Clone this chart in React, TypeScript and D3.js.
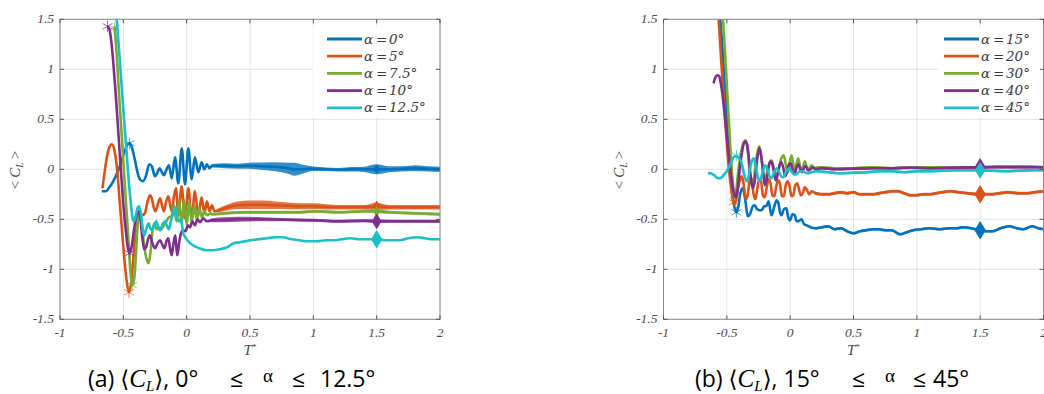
import React from 'react';
import * as d3 from 'd3';

const colors = ['#0072BD', '#D95319', '#77AC30', '#7E2F8E', '#1BBFC6'];
const leftValues = ['0°', '5°', '7.5°', '10°', '12.5°'];
const rightValues = ['15°', '20°', '30°', '40°', '45°'];
const xTicks = [-1, -0.5, 0, 0.5, 1, 1.5, 2];
const yTicks = [-1.5, -1, -0.5, 0, 0.5, 1, 1.5];
const xTickLabels = ['-1', '-0.5', '0', '0.5', '1', '1.5', '2'];
const yTickLabels = ['-1.5', '-1', '-0.5', '0', '0.5', '1', '1.5'];
const diamondT = 1.5;

// [T*, <CL>, noise half-width]
const a0: number[][] = [
  [-0.67, -0.22], [-0.64, -0.22], [-0.61, -0.18], [-0.58, -0.12], [-0.55, -0.04], [-0.52, 0.06], [-0.49, 0.18], [-0.465, 0.25], [-0.45, 0.26], [-0.43, 0.21], [-0.41, 0.1], [-0.39, -0.02], [-0.37, -0.1], [-0.345, -0.12], [-0.32, -0.06], [-0.295, 0.05], [-0.275, 0.03], [-0.25, -0.07], [-0.23, -0.03], [-0.215, 0.01], [-0.195, -0.03], [-0.18, -0.06], [-0.165, -0.02], [-0.14, 0.04], [-0.118, -0.09], [-0.092, 0.12], [-0.066, -0.14], [-0.039, 0.21], [-0.013, -0.15], [0.013, 0.21], [0.039, -0.1], [0.065, 0.12], [0.092, -0.03], [0.118, 0.07], [0.14, 0.0], [0.16, 0.05], [0.18, 0.01],
  [0.2, 0.035, 0.018], [0.3, 0.035, 0.025], [0.4, 0.03, 0.025], [0.5, 0.035, 0.03], [0.6, 0.03, 0.038], [0.7, 0.025, 0.045], [0.8, 0.01, 0.055], [0.85, 0.0, 0.065], [0.9, 0.0, 0.05], [1.0, 0.005, 0.022], [1.1, 0.0, 0.018], [1.2, -0.005, 0.018], [1.3, 0.0, 0.022], [1.4, 0.0, 0.026], [1.5, 0.0, 0.05], [1.6, 0.0, 0.03], [1.7, 0.005, 0.026], [1.8, 0.01, 0.03], [1.9, 0.005, 0.026], [2.0, 0.0, 0.026],
];
const a5: number[][] = [
  [-0.665, -0.19], [-0.65, -0.05], [-0.63, 0.12], [-0.61, 0.22], [-0.59, 0.25], [-0.57, 0.19], [-0.55, 0.01], [-0.53, -0.3], [-0.51, -0.62], [-0.49, -0.92], [-0.47, -1.15], [-0.455, -1.23], [-0.44, -1.15], [-0.425, -0.95], [-0.41, -0.72], [-0.39, -0.55], [-0.37, -0.47], [-0.35, -0.46], [-0.33, -0.44], [-0.31, -0.33], [-0.29, -0.26], [-0.275, -0.29], [-0.26, -0.38], [-0.245, -0.42], [-0.228, -0.35], [-0.21, -0.29], [-0.195, -0.36], [-0.18, -0.42], [-0.163, -0.33], [-0.145, -0.27], [-0.13, -0.36], [-0.118, -0.42], [-0.1, -0.27], [-0.084, -0.19], [-0.066, -0.46], [-0.04, -0.17], [-0.013, -0.49], [0.013, -0.19], [0.04, -0.49], [0.065, -0.22], [0.092, -0.46], [0.118, -0.28], [0.14, -0.44], [0.16, -0.32], [0.18, -0.42], [0.2, -0.36], [0.22, -0.42],
  [0.25, -0.41, 0.018], [0.3, -0.39, 0.026], [0.4, -0.36, 0.038], [0.5, -0.355, 0.042], [0.6, -0.355, 0.042], [0.7, -0.36, 0.038], [0.8, -0.365, 0.034], [0.9, -0.37, 0.03], [1.0, -0.37, 0.03], [1.1, -0.375, 0.026], [1.2, -0.38, 0.022], [1.3, -0.38, 0.022], [1.4, -0.38, 0.022], [1.5, -0.37, 0.035], [1.6, -0.38, 0.022], [1.7, -0.38, 0.022], [1.8, -0.38, 0.022], [1.9, -0.38, 0.022], [2.0, -0.38, 0.022],
];
const a75: number[][] = [
  [-0.57, 1.43], [-0.555, 1.2], [-0.54, 0.88], [-0.52, 0.48], [-0.5, 0.08], [-0.48, -0.32], [-0.46, -0.7], [-0.445, -1.0], [-0.43, -1.16], [-0.415, -1.1], [-0.4, -0.85], [-0.39, -0.6], [-0.376, -0.42], [-0.36, -0.5], [-0.34, -0.72], [-0.32, -0.88], [-0.3, -0.94], [-0.285, -0.82], [-0.27, -0.62], [-0.255, -0.54], [-0.24, -0.6], [-0.22, -0.58], [-0.2, -0.6], [-0.18, -0.56], [-0.16, -0.52], [-0.14, -0.48], [-0.12, -0.47], [-0.1, -0.36], [-0.08, -0.52], [-0.06, -0.31], [-0.04, -0.55], [-0.02, -0.31], [0.0, -0.55], [0.02, -0.33], [0.04, -0.53], [0.06, -0.36], [0.08, -0.5], [0.1, -0.39], [0.12, -0.48], [0.14, -0.42], [0.16, -0.46], [0.19, -0.44],
  [0.2, -0.45, 0.012], [0.3, -0.44, 0.015], [0.5, -0.43, 0.015], [0.7, -0.43, 0.015], [0.9, -0.43, 0.015], [1.0, -0.42, 0.015], [1.2, -0.43, 0.015], [1.4, -0.42, 0.015], [1.5, -0.42, 0.02], [1.6, -0.43, 0.015], [1.8, -0.44, 0.015], [2.0, -0.45, 0.015],
];
const a10: number[][] = [
  [-0.625, 1.43], [-0.61, 1.4], [-0.595, 1.28], [-0.58, 1.08], [-0.56, 0.75], [-0.54, 0.38], [-0.52, 0.0], [-0.5, -0.35], [-0.48, -0.62], [-0.465, -0.78], [-0.45, -0.84], [-0.435, -0.78], [-0.415, -0.6], [-0.395, -0.45], [-0.38, -0.42], [-0.365, -0.5], [-0.35, -0.68], [-0.335, -0.8], [-0.32, -0.78], [-0.305, -0.7], [-0.29, -0.66], [-0.27, -0.74], [-0.25, -0.79], [-0.23, -0.74], [-0.21, -0.71], [-0.19, -0.76], [-0.175, -0.79], [-0.16, -0.72], [-0.145, -0.69], [-0.13, -0.8], [-0.118, -0.86], [-0.104, -0.74], [-0.09, -0.66], [-0.08, -0.8], [-0.074, -0.86], [-0.06, -0.74], [-0.045, -0.64], [-0.027, -0.61], [-0.01, -0.62], [0.01, -0.56], [0.026, -0.58], [0.045, -0.52], [0.065, -0.56], [0.085, -0.5], [0.105, -0.53], [0.13, -0.49], [0.16, -0.52],
  [0.2, -0.51, 0.02], [0.3, -0.505, 0.025], [0.4, -0.5, 0.025], [0.6, -0.5, 0.02], [0.8, -0.505, 0.015], [1.0, -0.51, 0.015], [1.2, -0.52, 0.015], [1.4, -0.515, 0.015], [1.5, -0.52, 0.02], [1.6, -0.52, 0.015], [1.8, -0.52, 0.015], [2.0, -0.52, 0.015],
];
const a125: number[][] = [
  [-0.56, 1.62], [-0.54, 1.3], [-0.52, 0.95], [-0.5, 0.6], [-0.485, 0.35], [-0.47, 0.1], [-0.455, -0.15], [-0.44, -0.35], [-0.425, -0.5], [-0.415, -0.52], [-0.4, -0.45], [-0.385, -0.38], [-0.375, -0.37], [-0.36, -0.45], [-0.345, -0.62], [-0.335, -0.66], [-0.32, -0.6], [-0.3, -0.54], [-0.29, -0.58], [-0.275, -0.61], [-0.26, -0.57], [-0.24, -0.52], [-0.225, -0.58], [-0.21, -0.61], [-0.19, -0.55], [-0.17, -0.52], [-0.155, -0.57], [-0.14, -0.6], [-0.125, -0.52], [-0.105, -0.44], [-0.09, -0.38], [-0.075, -0.48], [-0.06, -0.52], [-0.045, -0.5], [-0.027, -0.64], [-0.01, -0.68], [0.013, -0.72], [0.05, -0.76], [0.1, -0.79], [0.16, -0.81], [0.21, -0.81], [0.26, -0.8], [0.32, -0.78], [0.37, -0.74], [0.42, -0.73], [0.5, -0.71], [0.56, -0.7], [0.63, -0.69], [0.7, -0.68], [0.76, -0.68], [0.83, -0.7], [0.89, -0.71], [0.96, -0.72], [1.03, -0.72], [1.1, -0.71], [1.16, -0.71], [1.22, -0.7], [1.29, -0.69], [1.36, -0.7], [1.43, -0.7], [1.5, -0.7], [1.57, -0.71], [1.63, -0.71], [1.68, -0.71], [1.75, -0.69], [1.82, -0.68], [1.88, -0.69], [1.94, -0.7], [2.0, -0.7],
];

const b15: number[][] = [
  [-0.56, 1.62], [-0.54, 1.3], [-0.52, 0.9], [-0.5, 0.5], [-0.48, 0.1], [-0.46, -0.22], [-0.44, -0.38], [-0.425, -0.43], [-0.41, -0.38], [-0.395, -0.25], [-0.375, -0.19], [-0.355, -0.3], [-0.335, -0.47], [-0.315, -0.44], [-0.295, -0.37], [-0.28, -0.36], [-0.26, -0.4], [-0.24, -0.41], [-0.225, -0.41], [-0.205, -0.37], [-0.19, -0.37], [-0.17, -0.32], [-0.158, -0.4], [-0.147, -0.46], [-0.125, -0.37], [-0.107, -0.31], [-0.095, -0.33], [-0.08, -0.43], [-0.068, -0.46], [-0.05, -0.4], [-0.03, -0.39], [-0.015, -0.48], [0.0, -0.51], [0.018, -0.45], [0.037, -0.46], [0.05, -0.52], [0.063, -0.52], [0.09, -0.5], [0.11, -0.55], [0.13, -0.56], [0.16, -0.58],
  [0.2, -0.59, 0.012], [0.25, -0.58, 0.012], [0.3, -0.57, 0.012], [0.35, -0.6, 0.012], [0.4, -0.59, 0.012], [0.45, -0.62, 0.012], [0.5, -0.64, 0.012], [0.55, -0.62, 0.012], [0.6, -0.61, 0.012], [0.65, -0.6, 0.012], [0.7, -0.6, 0.012], [0.75, -0.61, 0.012], [0.8, -0.61, 0.012], [0.87, -0.65, 0.012], [0.92, -0.63, 0.012], [0.97, -0.61, 0.012], [1.03, -0.6, 0.012], [1.1, -0.59, 0.012], [1.18, -0.6, 0.012], [1.26, -0.59, 0.012], [1.32, -0.59, 0.012], [1.36, -0.58, 0.012], [1.43, -0.59, 0.012], [1.5, -0.61, 0.012], [1.55, -0.62, 0.012], [1.6, -0.62, 0.012], [1.66, -0.59, 0.012], [1.73, -0.57, 0.012], [1.79, -0.59, 0.012], [1.84, -0.6, 0.012], [1.91, -0.57, 0.012], [1.96, -0.59, 0.012], [2.0, -0.6, 0.012],
];
const b20: number[][] = [
  [-0.58, 1.7], [-0.565, 1.5], [-0.545, 1.1], [-0.525, 0.72], [-0.505, 0.35], [-0.485, 0.02], [-0.465, -0.2], [-0.45, -0.32], [-0.44, -0.35], [-0.425, -0.3], [-0.41, -0.18], [-0.395, -0.1], [-0.38, -0.07], [-0.365, -0.17], [-0.35, -0.3], [-0.335, -0.26], [-0.32, -0.1], [-0.305, -0.09], [-0.29, -0.24], [-0.275, -0.3], [-0.26, -0.2], [-0.245, -0.1], [-0.23, -0.12], [-0.215, -0.26], [-0.2, -0.28], [-0.185, -0.18], [-0.17, -0.1], [-0.155, -0.14], [-0.14, -0.26], [-0.125, -0.27], [-0.11, -0.17], [-0.095, -0.11], [-0.08, -0.15], [-0.065, -0.27], [-0.05, -0.27], [-0.035, -0.16], [-0.02, -0.12], [-0.005, -0.17], [0.01, -0.27], [0.025, -0.26], [0.04, -0.16], [0.055, -0.14], [0.07, -0.2], [0.085, -0.26], [0.1, -0.24], [0.115, -0.18], [0.13, -0.2], [0.15, -0.25], [0.17, -0.22],
  [0.2, -0.24, 0.015], [0.25, -0.25, 0.015], [0.3, -0.25, 0.015], [0.35, -0.24, 0.015], [0.4, -0.23, 0.015], [0.45, -0.24, 0.015], [0.5, -0.23, 0.015], [0.55, -0.25, 0.015], [0.6, -0.25, 0.015], [0.65, -0.25, 0.015], [0.7, -0.24, 0.015], [0.75, -0.23, 0.015], [0.8, -0.22, 0.015], [0.85, -0.22, 0.015], [0.9, -0.24, 0.015], [0.95, -0.26, 0.015], [1.0, -0.26, 0.015], [1.05, -0.25, 0.015], [1.1, -0.25, 0.015], [1.15, -0.24, 0.015], [1.2, -0.23, 0.015], [1.27, -0.22, 0.015], [1.33, -0.23, 0.015], [1.4, -0.24, 0.015], [1.5, -0.25, 0.015], [1.58, -0.25, 0.015], [1.65, -0.24, 0.015], [1.72, -0.23, 0.015], [1.8, -0.24, 0.015], [1.86, -0.24, 0.015], [1.93, -0.23, 0.015], [2.0, -0.22, 0.015],
];
const b30: number[][] = [
  [-0.545, 1.7], [-0.53, 1.5], [-0.515, 1.18], [-0.5, 0.85], [-0.485, 0.5], [-0.47, 0.17], [-0.455, -0.1], [-0.44, -0.26], [-0.425, -0.2], [-0.41, -0.02], [-0.39, 0.15], [-0.37, 0.26], [-0.35, 0.29], [-0.335, 0.18], [-0.318, -0.05], [-0.302, -0.17], [-0.285, -0.08], [-0.265, 0.12], [-0.245, 0.23], [-0.228, 0.12], [-0.213, -0.03], [-0.2, -0.11], [-0.185, -0.05], [-0.165, 0.06], [-0.147, 0.09], [-0.127, 0.0], [-0.107, -0.06], [-0.09, 0.0], [-0.07, 0.11], [-0.05, 0.14], [-0.035, 0.05], [-0.02, -0.03], [-0.005, 0.06], [0.011, 0.14], [0.024, 0.06], [0.037, -0.03], [0.05, 0.05], [0.063, 0.11], [0.076, 0.04], [0.09, -0.02], [0.103, 0.03], [0.116, 0.08], [0.128, 0.03], [0.14, -0.01], [0.155, 0.02], [0.17, 0.04], [0.19, 0.01],
  [0.22, 0.02, 0.012], [0.35, 0.01, 0.012], [0.5, 0.01, 0.012], [0.65, 0.02, 0.012], [0.8, 0.01, 0.012], [0.95, 0.02, 0.012], [1.1, 0.02, 0.012], [1.3, 0.02, 0.012], [1.5, 0.02, 0.012], [1.65, 0.03, 0.012], [1.8, 0.03, 0.012], [2.0, 0.02, 0.012],
];
const b40: number[][] = [
  [-0.605, 0.86], [-0.59, 0.92], [-0.575, 0.94], [-0.56, 0.93], [-0.545, 0.84], [-0.53, 0.7], [-0.515, 0.52], [-0.5, 0.34], [-0.485, 0.15], [-0.47, -0.03], [-0.455, -0.17], [-0.44, -0.26], [-0.43, -0.28], [-0.415, -0.2], [-0.4, -0.02], [-0.385, 0.13], [-0.37, 0.24], [-0.355, 0.28], [-0.34, 0.25], [-0.325, 0.1], [-0.31, -0.09], [-0.295, -0.19], [-0.28, -0.12], [-0.265, 0.05], [-0.25, 0.18], [-0.24, 0.21], [-0.225, 0.1], [-0.21, -0.07], [-0.2, -0.16], [-0.185, -0.1], [-0.17, 0.02], [-0.155, 0.08], [-0.14, 0.05], [-0.125, -0.05], [-0.113, -0.11], [-0.1, -0.06], [-0.085, 0.04], [-0.07, 0.07], [-0.055, 0.02], [-0.04, -0.07], [-0.025, -0.03], [-0.01, 0.05], [0.005, 0.06], [0.02, -0.02], [0.035, -0.05], [0.05, 0.02], [0.065, 0.05], [0.08, 0.0], [0.095, -0.03], [0.11, 0.02], [0.125, 0.03], [0.14, -0.01], [0.16, 0.0], [0.18, 0.02], [0.2, 0.0],
  [0.25, 0.01, 0.012], [0.35, 0.0, 0.012], [0.5, 0.005, 0.012], [0.65, 0.01, 0.012], [0.8, 0.01, 0.012], [0.95, 0.015, 0.012], [1.1, 0.01, 0.012], [1.3, 0.015, 0.012], [1.5, 0.02, 0.012], [1.65, 0.02, 0.012], [1.8, 0.02, 0.012], [2.0, 0.02, 0.012],
];
const b45: number[][] = [
  [-0.65, -0.04], [-0.63, -0.04], [-0.61, -0.05], [-0.59, -0.07], [-0.57, -0.09], [-0.555, -0.09], [-0.54, -0.08], [-0.52, -0.05], [-0.5, -0.02], [-0.48, 0.03], [-0.46, 0.09], [-0.44, 0.13], [-0.423, 0.13], [-0.405, 0.11], [-0.385, 0.07], [-0.365, -0.04], [-0.345, -0.12], [-0.33, -0.08], [-0.31, 0.05], [-0.29, 0.11], [-0.275, 0.06], [-0.258, -0.06], [-0.24, -0.12], [-0.22, -0.04], [-0.2, 0.04], [-0.185, 0.02], [-0.165, -0.06], [-0.147, -0.09], [-0.127, -0.03], [-0.107, 0.01], [-0.09, -0.02], [-0.07, -0.07], [-0.055, -0.08], [-0.03, -0.02], [-0.01, 0.01], [0.01, -0.02], [0.03, -0.05], [0.05, -0.05], [0.075, -0.02], [0.1, -0.02], [0.13, -0.04], [0.17, -0.03],
  [0.2, -0.02, 0.01], [0.3, -0.03, 0.012], [0.4, -0.04, 0.012], [0.5, -0.035, 0.012], [0.6, -0.03, 0.012], [0.7, -0.02, 0.012], [0.8, -0.02, 0.012], [0.9, -0.03, 0.012], [1.0, -0.02, 0.012], [1.1, -0.02, 0.012], [1.2, -0.015, 0.012], [1.3, -0.01, 0.012], [1.4, -0.01, 0.012], [1.5, -0.01, 0.012], [1.6, -0.015, 0.012], [1.7, -0.02, 0.012], [1.8, -0.015, 0.012], [1.9, -0.01, 0.012], [2.0, -0.01, 0.012],
];

const leftSeries = [a0, a5, a75, a10, a125];
const rightSeries = [b15, b20, b30, b40, b45];
// [series index, T*, <CL>]
const leftStars: number[][] = [[0, -0.45, 0.26], [1, -0.455, -1.23], [3, -0.45, -0.84], [2, -0.43, -1.16], [3, -0.625, 1.43], [2, -0.57, 1.41]];
const rightStars: number[][] = [[1, -0.445, -0.33], [2, -0.437, -0.26], [0, -0.425, -0.43], [4, -0.423, 0.14]];

const W = 380;
const Y0 = 319.3;
const Y1 = 19.3;
const SERIF = "'Liberation Serif', 'DejaVu Serif', serif";
const DVSERIF = "'DejaVu Serif', 'Liberation Serif', serif";

type PanelProps = {
  id: string;
  left: number;
  series: number[][][];
  stars: number[][];
  values: string[];
  legendRect: [number, number, number, number];
  legendLineX: number;
  legendTextX: number;
  diamondScale: number[];
};

function Panel(p: PanelProps) {
  const xs = d3.scaleLinear().domain([-1, 2]).range([p.left, p.left + W]);
  const ys = d3.scaleLinear().domain([-1.5, 1.5]).range([Y0, Y1]);
  const line = d3.line<number[]>().x(d => xs(d[0])).y(d => ys(d[1])).curve(d3.curveMonotoneX);
  const area = d3.area<number[]>()
    .x(d => xs(d[0]))
    .y0(d => ys(d[1] - (d[2] ?? 0)))
    .y1(d => ys(d[1] + (d[2] ?? 0)))
    .curve(d3.curveMonotoneX);
  const star = d3.symbol().type(d3.symbolAsterisk).size(90);
  const rowY = (i: number) => 39 + i * 17.2;
  const tickStyle = { fontFamily: SERIF, fontStyle: 'italic', fontSize: '13.5px' } as React.CSSProperties;
  return (
    <g>
      <defs>
        <clipPath id={p.id}>
          <rect x={p.left} y={Y1} width={W} height={Y0 - Y1} />
        </clipPath>
      </defs>
      <rect x={p.left} y={Y1} width={W} height={Y0 - Y1} fill="#fff" />
      {xTicks.map(t => (
        <line key={'gx' + t} x1={xs(t)} x2={xs(t)} y1={Y1} y2={Y0} stroke="#e3e3e3" strokeWidth={1} />
      ))}
      {yTicks.map(t => (
        <line key={'gy' + t} x1={p.left} x2={p.left + W} y1={ys(t)} y2={ys(t)} stroke="#e3e3e3" strokeWidth={1} />
      ))}
      <g clipPath={`url(#${p.id})`}>
        {p.series.map((s, i) => {
          const dv = s.find(d => d[0] === diamondT);
          const k = p.diamondScale[i];
          return (
            <g key={'s' + i}>
              <path d={area(s) || ''} fill={colors[i]} opacity={0.8} />
              <path d={line(s) || ''} fill="none" stroke={colors[i]} strokeWidth={2.6} strokeLinejoin="round" />
              {p.stars.filter(st => st[0] === i).map((st, j) => (
                <path key={j} d={star() || ''} transform={`translate(${xs(st[1])},${ys(st[2])})`} fill="none" stroke={colors[i]} strokeWidth={1} opacity={0.7} />
              ))}
              {dv && k > 0 && (
                <path
                  d={`M${xs(dv[0])},${ys(dv[1]) - 8.5 * k}L${xs(dv[0]) + 5.2 * k},${ys(dv[1])}L${xs(dv[0])},${ys(dv[1]) + 8.5 * k}L${xs(dv[0]) - 5.2 * k},${ys(dv[1])}Z`}
                  fill={colors[i]}
                  stroke={colors[i]}
                  strokeWidth={1}
                />
              )}
            </g>
          );
        })}
      </g>
      <rect x={p.left} y={Y1} width={W} height={Y0 - Y1} fill="none" stroke="#8a8a8a" strokeWidth={1} />
      {xTicks.map(t => (
        <g key={'tx' + t}>
          <line x1={xs(t)} x2={xs(t)} y1={Y0} y2={Y0 - 4} stroke="#555" />
          <line x1={xs(t)} x2={xs(t)} y1={Y1} y2={Y1 + 4} stroke="#555" />
        </g>
      ))}
      {yTicks.map(t => (
        <g key={'ty' + t}>
          <line x1={p.left} x2={p.left + 4} y1={ys(t)} y2={ys(t)} stroke="#555" />
          <line x1={p.left + W} x2={p.left + W - 4} y1={ys(t)} y2={ys(t)} stroke="#555" />
        </g>
      ))}
      {xTicks.map((t, i) => (
        <text key={'lx' + t} x={xs(t)} y={337} textAnchor="middle" style={tickStyle} fill="#4a4a4a">
          {xTickLabels[i]}
        </text>
      ))}
      {yTicks.map((t, i) => (
        <text key={'ly' + t} x={p.left - 6} y={ys(t) + 4} textAnchor="end" style={tickStyle} fill="#4a4a4a">
          {yTickLabels[i]}
        </text>
      ))}
      <text x={p.left + W / 2} y={355} textAnchor="middle" style={{ fontFamily: SERIF, fontSize: '15px' }} fill="#4a4a4a">
        <tspan style={{ fontStyle: 'italic' }}>T</tspan>
        <tspan style={{ fontSize: '9px' }} dy={-5}>*</tspan>
      </text>
      <text transform={`translate(${p.left - 40},170) rotate(-90)`} textAnchor="middle" style={{ fontFamily: SERIF, fontSize: '15px' }} fill="#4a4a4a">
        <tspan>{'<'}</tspan>
        <tspan dx={3} style={{ fontStyle: 'italic' }}>C</tspan>
        <tspan style={{ fontStyle: 'italic', fontSize: '10px' }} dy={3}>L</tspan>
        <tspan dx={3} dy={-3}>{'>'}</tspan>
      </text>
      <rect x={p.legendRect[0]} y={p.legendRect[1]} width={p.legendRect[2]} height={p.legendRect[3]} fill="#fff" />
      {p.values.map((v, i) => (
        <g key={'lg' + i}>
          <line x1={p.legendLineX} x2={p.legendLineX + 35} y1={rowY(i)} y2={rowY(i)} stroke={colors[i]} strokeWidth={2.8} />
          <text x={p.legendTextX} y={rowY(i) + 4.5} style={{ fontFamily: DVSERIF, fontSize: '13.5px' }} fill="#3a3a3a">
            <tspan style={{ fontStyle: 'italic' }}>α</tspan>
            <tspan x={p.legendTextX + 12}>=</tspan>
            <tspan x={p.legendTextX + 25} style={{ fontStyle: 'italic' }}>{v}</tspan>
          </text>
        </g>
      ))}
    </g>
  );
}

function Caption({ x, label, first, last, le1, alphaX, le2, lastX }: { x: number; label: string; first: string; last: string; le1: number; alphaX: number; le2: number; lastX: number }) {
  const sans = "'Open Sans', 'Noto Sans', 'DejaVu Sans', sans-serif";
  const y = 387;
  const base = { fontFamily: sans, fontSize: '23px' } as React.CSSProperties;
  return (
    <g fill="#000">
      <text x={x} y={y} style={base}>
        <tspan>{`${label} ⟨`}</tspan>
        <tspan style={{ fontFamily: SERIF, fontStyle: 'italic', fontSize: '25px' }}>C</tspan>
        <tspan style={{ fontFamily: SERIF, fontStyle: 'italic', fontSize: '15px' }} dy={4}>L</tspan>
        <tspan dy={-4}>{`⟩, ${first}°`}</tspan>
      </text>
      <text x={le1} y={y} style={base}>≤</text>
      <text x={alphaX} y={382} style={{ fontFamily: SERIF, fontSize: '19px' }}>α</text>
      <text x={le2} y={y} style={base}>≤</text>
      <text x={lastX} y={y} style={base}>{`${last}°`}</text>
    </g>
  );
}

export default function App() {
  return (
    <svg width={1044} height={394} style={{ position: 'absolute', left: 0, top: 0, background: '#fff' }} xmlns="http://www.w3.org/2000/svg">
      <rect x={0} y={0} width={1044} height={394} fill="#fff" />
      <Panel
        id="clipL"
        left={60}
        series={leftSeries}
        stars={leftStars}
        values={leftValues}
        legendRect={[313, 27, 122, 90]}
        legendLineX={327}
        legendTextX={364}
        diamondScale={[0.5, 0.6, 0.6, 0.85, 1]}
      />
      <Panel
        id="clipR"
        left={663.5}
        series={rightSeries}
        stars={rightStars}
        values={rightValues}
        legendRect={[938, 28, 102, 89]}
        legendLineX={944}
        legendTextX={981}
        diamondScale={[1, 1, 0.6, 1, 0.9]}
      />
      <Caption x={88} label="(a)" first="0" last="12.5" le1={230} alphaX={263} le2={292} lastX={320} />
      <Caption x={695} label="(b)" first="15" last="45" le1={852} alphaX={885} le2={913} lastX={933} />
    </svg>
  );
}
